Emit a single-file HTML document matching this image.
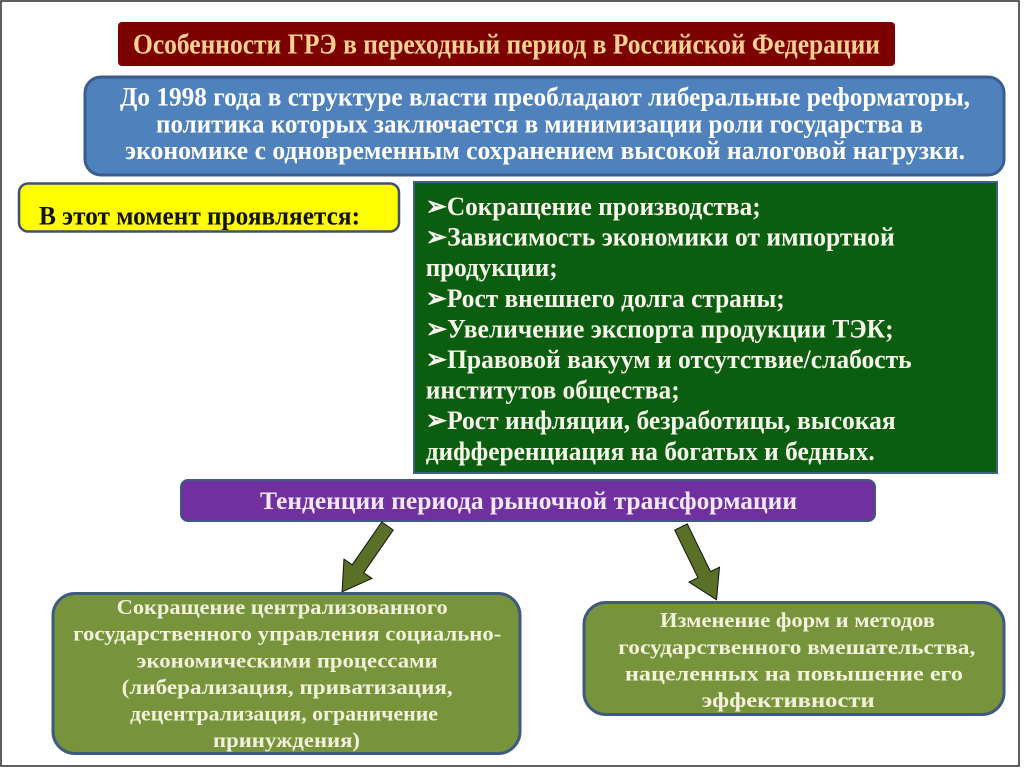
<!DOCTYPE html>
<html>
<head>
<meta charset="utf-8">
<style>
html,body{margin:0;padding:0;background:#fff;}
svg{display:block;}
text{font-family:"Liberation Serif","DejaVu Serif",serif;font-weight:bold;}
</style>
</head>
<body>
<svg width="1024" height="768" viewBox="0 0 1024 768" xmlns="http://www.w3.org/2000/svg">
<rect x="0" y="0" width="1024" height="768" fill="#ffffff"/>
<rect x="1" y="1" width="1018" height="765" fill="none" stroke="#2a2a2a" stroke-width="1.5"/>

<!-- Title -->
<rect x="118" y="22" width="777" height="44" rx="4" fill="#7c0202"/>
<text x="133" y="53.5" font-size="28.5" fill="#fdd28e" textLength="747" lengthAdjust="spacingAndGlyphs">Особенности ГРЭ в переходный период в Российской Федерации</text>

<!-- Blue box -->
<rect x="85" y="77" width="919" height="98" rx="16" fill="#4f81bd" stroke="#3a5d8c" stroke-width="3"/>
<text x="120" y="105.5" font-size="26" fill="#ffffff" textLength="850" lengthAdjust="spacingAndGlyphs">До 1998 года в структуре власти преобладают либеральные реформаторы,</text>
<text x="156" y="132.3" font-size="26" fill="#ffffff" textLength="767" lengthAdjust="spacingAndGlyphs">политика которых заключается в минимизации роли государства в</text>
<text x="125" y="159" font-size="26" fill="#ffffff" textLength="840" lengthAdjust="spacingAndGlyphs">экономике с одновременным сохранением высокой налоговой нагрузки.</text>

<!-- Yellow box -->
<rect x="19" y="183.5" width="380" height="48" rx="9" fill="#ffff00" stroke="#3d5170" stroke-width="2.5"/>
<text x="39" y="224.5" font-size="26" fill="#111111" textLength="321" lengthAdjust="spacingAndGlyphs">В этот момент проявляется:</text>

<!-- Green box -->
<rect x="414" y="182" width="583" height="291" fill="#0b5e10" stroke="#3d6286" stroke-width="2"/>
<g font-size="26.5" fill="#f6f6ea">
<text x="425.7" y="215" textLength="335" lengthAdjust="spacingAndGlyphs">➢Сокращение производства;</text>
<text x="425.7" y="245.6" textLength="469" lengthAdjust="spacingAndGlyphs">➢Зависимость экономики от импортной</text>
<text x="425.7" y="276.2" textLength="132" lengthAdjust="spacingAndGlyphs">продукции;</text>
<text x="425.7" y="306.8" textLength="359" lengthAdjust="spacingAndGlyphs">➢Рост внешнего долга страны;</text>
<text x="425.7" y="337.4" textLength="468" lengthAdjust="spacingAndGlyphs">➢Увеличение экспорта продукции ТЭК;</text>
<text x="425.7" y="368" textLength="486" lengthAdjust="spacingAndGlyphs">➢Правовой вакуум и отсутствие/слабость</text>
<text x="425.7" y="398.6" textLength="254" lengthAdjust="spacingAndGlyphs">институтов общества;</text>
<text x="425.7" y="429.2" textLength="470" lengthAdjust="spacingAndGlyphs">➢Рост инфляции, безработицы, высокая</text>
<text x="425.7" y="459.8" textLength="449" lengthAdjust="spacingAndGlyphs">дифференциация на богатых и бедных.</text>
</g>

<!-- Purple box -->
<rect x="181" y="480" width="694" height="41" rx="7" fill="#7030a0" stroke="#3e5a80" stroke-width="2"/>
<text x="260" y="509" font-size="25.5" fill="#f6e8f4" textLength="537" lengthAdjust="spacingAndGlyphs">Тенденции периода рыночной трансформации</text>

<!-- Arrows -->
<g transform="translate(387.5,526) rotate(34.6)">
<polygon points="-7,0 7,0 7,52 17,52 0,80 -17,52 -7,52" fill="#5a7026" stroke="#111" stroke-width="1"/>
</g>
<g transform="translate(681,527) rotate(-26)">
<polygon points="-7,0 7,0 7,53 17,53 0,81 -17,53 -7,53" fill="#5a7026" stroke="#111" stroke-width="1"/>
</g>

<!-- Bottom left box -->
<rect x="53" y="593.5" width="467" height="160" rx="22" fill="#77933c" stroke="#3e5a80" stroke-width="3"/>
<g font-size="21.5" fill="#f2f2da">
<text x="116.7" y="614" textLength="331" lengthAdjust="spacingAndGlyphs">Сокращение централизованного</text>
<text x="73.3" y="640.7" textLength="428" lengthAdjust="spacingAndGlyphs">государственного управления социально-</text>
<text x="136.7" y="667.3" textLength="301" lengthAdjust="spacingAndGlyphs">экономическими процессами</text>
<text x="121.7" y="693.9" textLength="331" lengthAdjust="spacingAndGlyphs">(либерализация, приватизация,</text>
<text x="130" y="720.5" textLength="308" lengthAdjust="spacingAndGlyphs">децентрализация, ограничение</text>
<text x="213" y="747.1" textLength="147" lengthAdjust="spacingAndGlyphs">принуждения)</text>
</g>

<!-- Bottom right box -->
<rect x="584" y="602.5" width="420" height="112" rx="22" fill="#77933c" stroke="#3e5a80" stroke-width="3"/>
<g font-size="21.5" fill="#f2f2da">
<text x="660" y="627.2" textLength="275" lengthAdjust="spacingAndGlyphs">Изменение форм и методов</text>
<text x="618.3" y="653.8" textLength="357" lengthAdjust="spacingAndGlyphs">государственного вмешательства,</text>
<text x="625" y="680.5" textLength="338" lengthAdjust="spacingAndGlyphs">нацеленных на повышение его</text>
<text x="701.7" y="707.2" textLength="173" lengthAdjust="spacingAndGlyphs">эффективности</text>
</g>
</svg>
</body>
</html>
